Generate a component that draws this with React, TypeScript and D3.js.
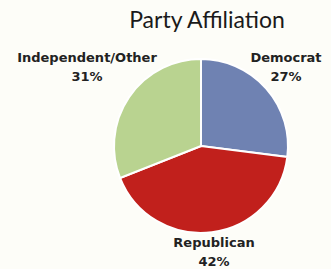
import * as d3 from "d3";
import { useEffect } from "react";

const parties = ["Democrat", "Republican", "Independent/Other"];
const shares = [27, 42, 31];
const colors = ["#6f82b2", "#c1201c", "#b9d390"];

const width = 331;
const height = 269;

export default function App() {
  useEffect(() => {
    document.body.style.margin = "0";
  }, []);

  const cx = 201;
  const cy = 146;
  const r = 87;

  const pie = d3.pie<number>().sort(null).value((d) => d);
  const arcs = pie(shares);
  const arc = d3.arc<d3.PieArcDatum<number>>().innerRadius(0).outerRadius(r);

  // label anchors
  const labels = [
    { x: 286, y: 62 },
    { x: 214, y: 247 },
    { x: 87, y: 62 },
  ];

  return (
    <svg width={width} height={height} style={{ display: "block", background: "#fdfdf8" }}>
      <text x={207} y={28} textAnchor="middle" fontFamily="Lato" fontSize={23} fill="#1a1a1a">
        Party Affiliation
      </text>
      <g transform={`translate(${cx},${cy})`}>
        {arcs.map((a, i) => (
          <path key={parties[i]} d={arc(a) ?? ""} fill={colors[i]} stroke="#fff" strokeWidth={2} />
        ))}
      </g>
      {labels.map((l, i) => (
        <text
          key={parties[i]}
          x={l.x}
          textAnchor="middle"
          fontFamily="DejaVu Sans"
          fontWeight="bold"
          fontSize={13}
          fill="#222"
        >
          <tspan x={l.x} y={l.y}>{parties[i]}</tspan>
          <tspan x={l.x} y={l.y + 19}>{shares[i]}%</tspan>
        </text>
      ))}
    </svg>
  );
}
